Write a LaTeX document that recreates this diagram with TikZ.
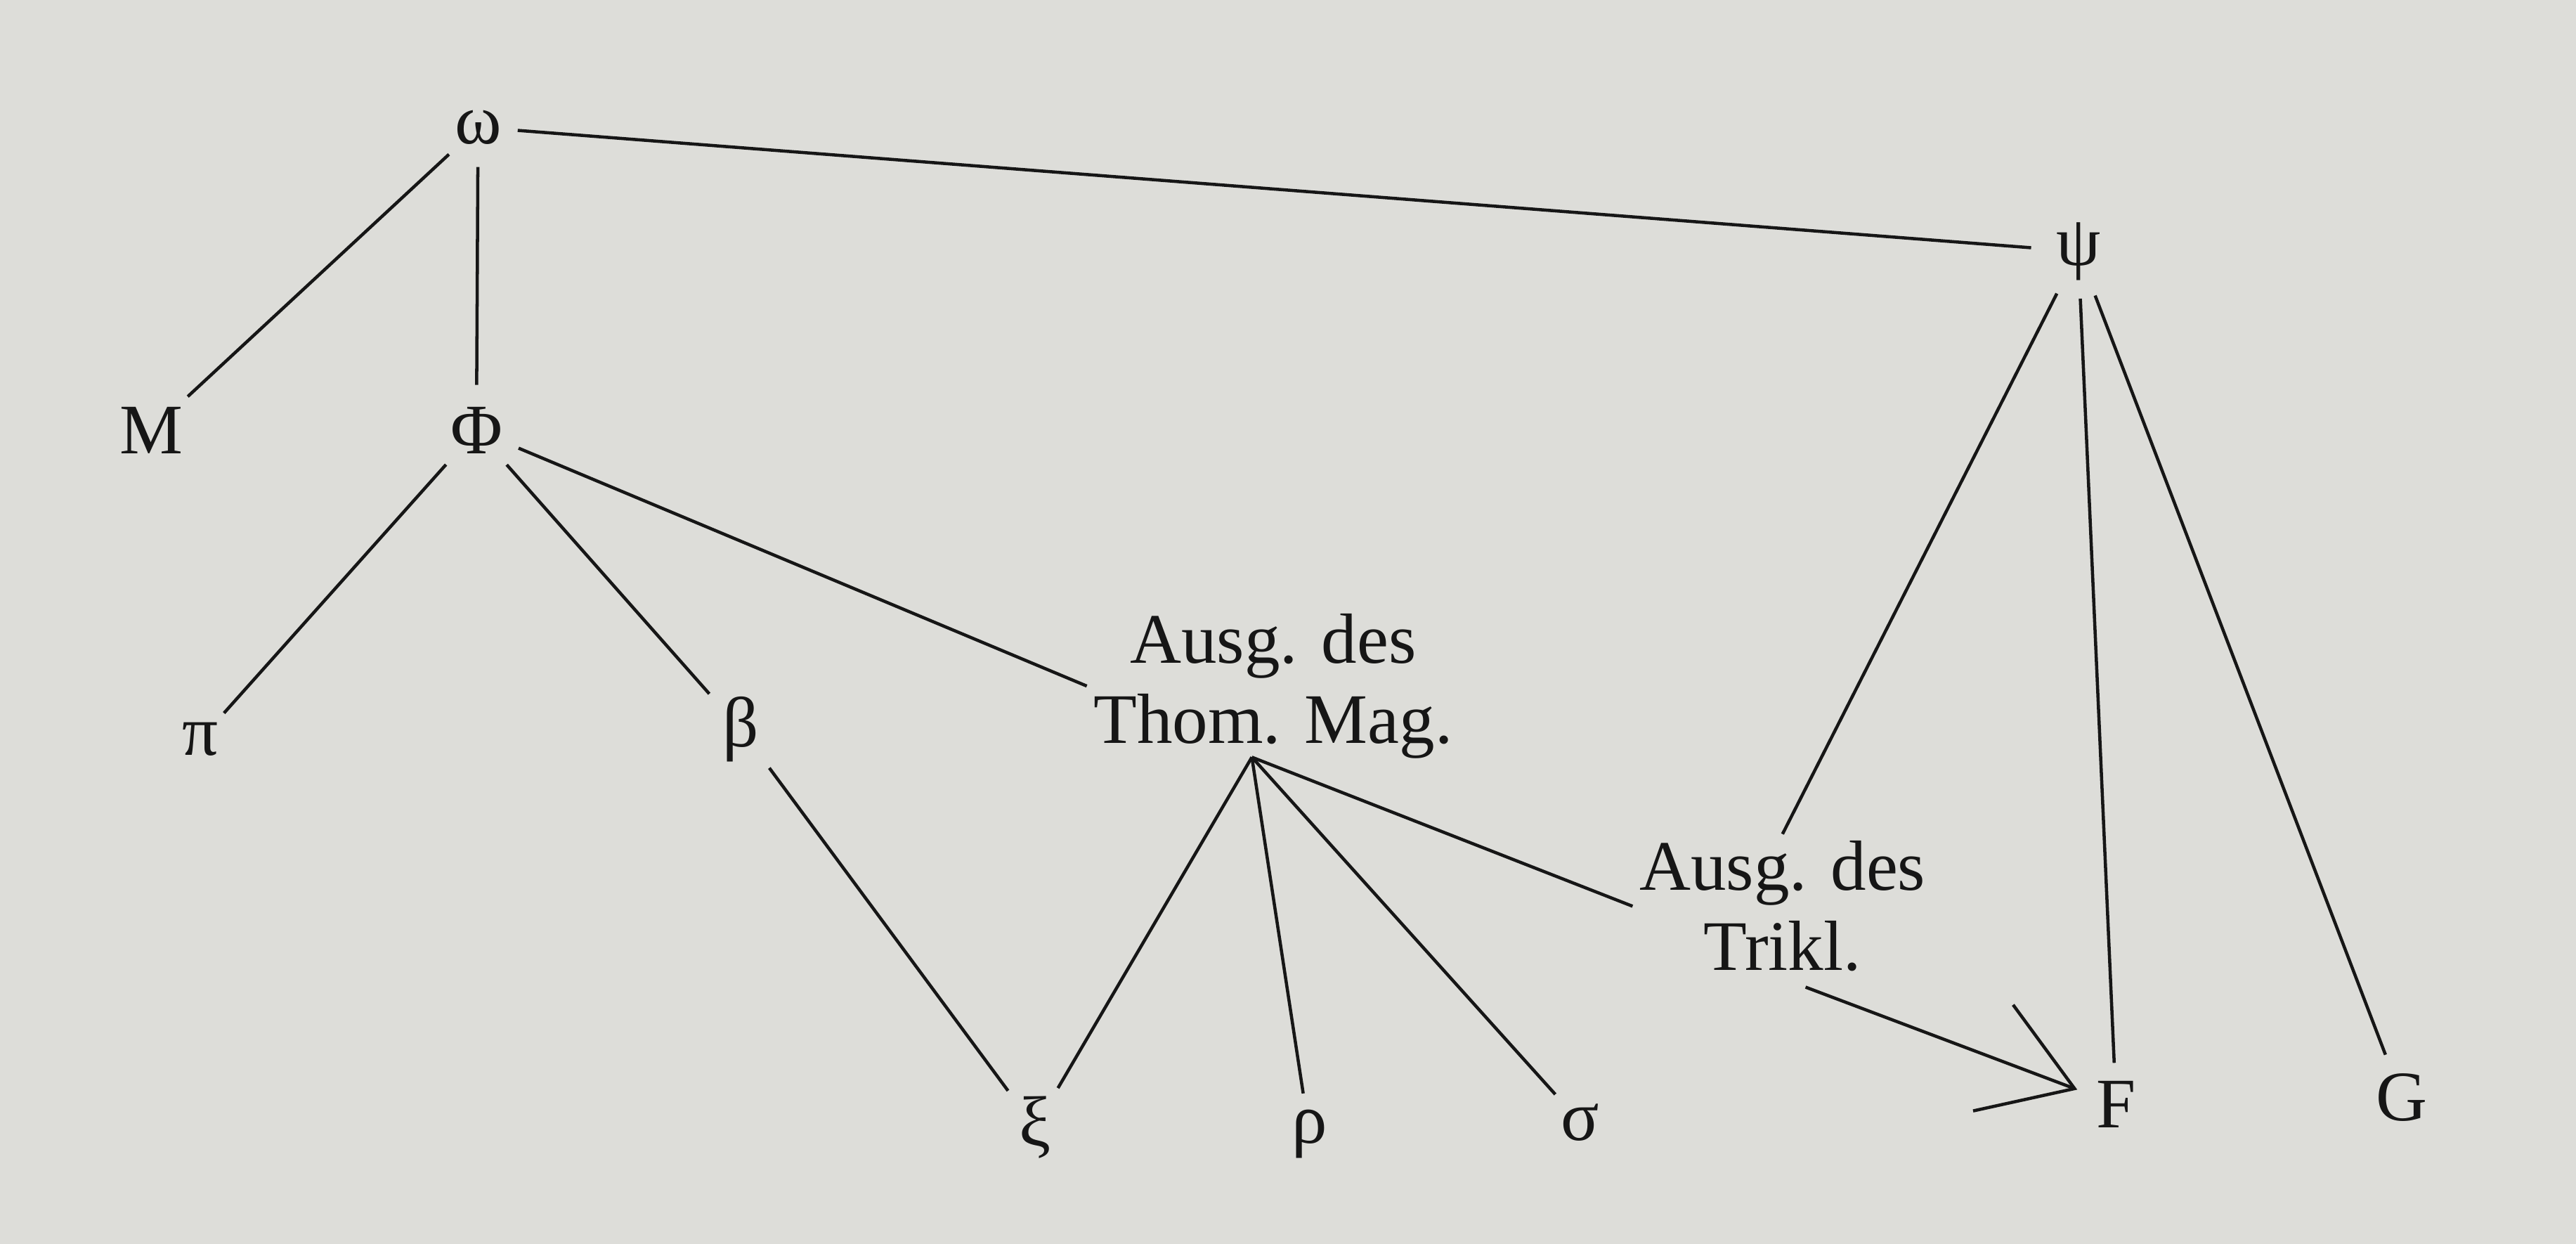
\documentclass[tikz,border=0pt]{standalone}
\usepackage{fontspec}
\setmainfont{Liberation Serif}
\usetikzlibrary{arrows.meta}
\definecolor{paper}{RGB}{221,221,217}
\definecolor{ink}{RGB}{22,22,22}

\begin{document}
\begin{tikzpicture}[
    wit/.style={circle, inner sep=1.2pt, text=ink, font=\fontsize{12.3}{13.9}\selectfont},
    ausg/.style={rectangle, align=center, inner sep=1pt, text=ink, font=\fontsize{12.3}{13.9}\selectfont},
    ln/.style={draw=ink, line width=0.55pt}
]
    % Paper
    \fill[paper] (0,0) rectangle (15.68,-7.57);
    \useasboundingbox (0,0) rectangle (15.68,-7.57);

    % Archetypes
    \node[wit] (omega) at (2.91,-0.775) {ω};
    \node[wit] (psi) at (12.65,-1.53) {ψ};

    % Hyparchetypes
    \node[wit] (M) at (0.92,-2.62) {M};
    \node[wit] (Phi) at (2.90,-2.62) {Φ};
    \node[wit] (pi) at (1.22,-4.50) {π};
    \node[wit] (beta) at (4.51,-4.44) {β};

    % Editions
    \node[ausg] (thom) at (7.75,-4.175) {Ausg. des\\Thom. Mag.};
    \node[ausg] (trikl) at (10.85,-5.515) {Ausg. des\\Trikl.};
    \coordinate (thomfoot) at ([shift={(-0.13,0.05)}]thom.south);

    % Bottom row
    \node[wit] (xi) at (6.30,-6.86) {ξ};
    \node[wit] (rho) at (7.97,-6.90) {ρ};
    \node[wit] (sigma) at (9.62,-6.83) {σ};
    \node[wit] (F) at (12.88,-6.72) {F};
    \node[wit] (G) at (14.62,-6.68) {G};

    % Stemma lines
    \draw[ln] (omega) -- (M);
    \draw[ln] (omega) -- (Phi);
    \draw[ln] (omega) -- (psi);
    \draw[ln] (Phi) -- (pi);
    \draw[ln] (Phi) -- (beta);
    \draw[ln] (Phi) -- (thom.west);
    \draw[ln] (beta) -- (xi);
    \draw[ln] (thomfoot) -- (xi);
    \draw[ln] (thomfoot) -- (rho);
    \draw[ln] (thomfoot) -- (sigma);
    \draw[ln] (thomfoot) -- (trikl.west);
    \draw[ln] (psi) -- (trikl.north);
    \draw[ln] (psi) -- (F);
    \draw[ln] (psi) -- (G);

    % Contamination
    \draw[ln, shorten <=1.5mm, -{Straight Barb[length=5.3mm, width=6.9mm]}] (trikl.south) -- (F);
\end{tikzpicture}
\end{document}
